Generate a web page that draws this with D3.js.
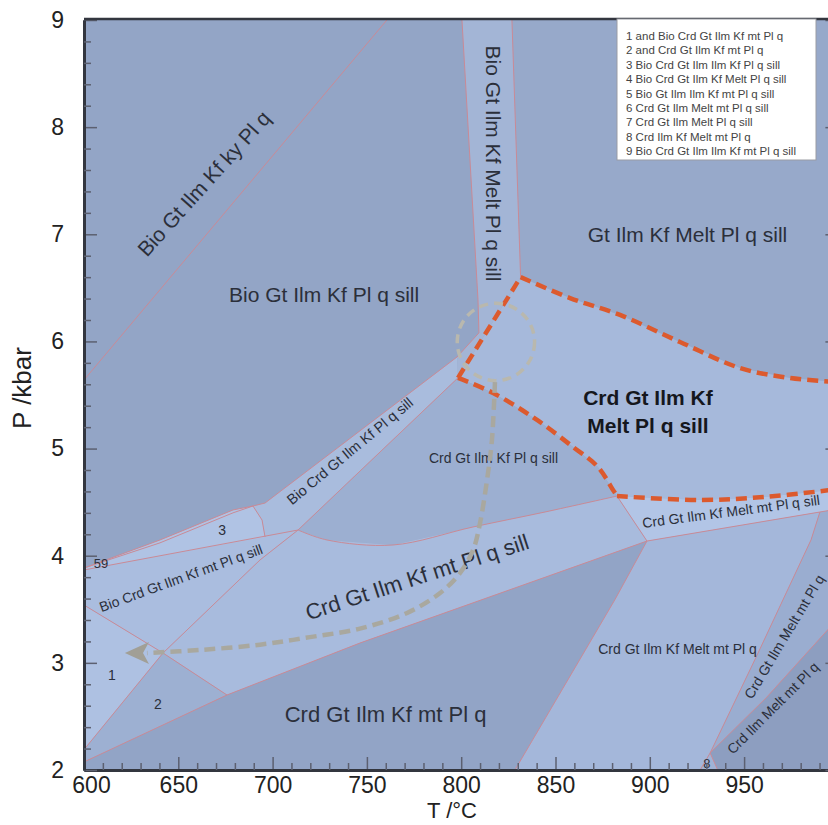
<!DOCTYPE html>
<html>
<head>
<meta charset="utf-8">
<script src="https://cdn.jsdelivr.net/npm/d3@7"></script>
<style>
  body { margin: 0; background: #fff; }
  svg { display: block; }
  text { font-family: "Liberation Sans", Arial, sans-serif; }
</style>
</head>
<body>
<div id="chart"></div>
<script>
//
// P-T pseudosection, all points are [T °C, P kbar]
//
const tTicks = [600, 650, 700, 750, 800, 850, 900, 950]
const pTicks = [2, 3, 4, 5, 6, 7, 8, 9]

const legendItems = [
  "1 and Bio Crd Gt Ilm Kf mt Pl q",
  "2 and Crd Gt Ilm Kf mt Pl q",
  "3 Bio Crd Gt Ilm Ilm Kf Pl q sill",
  "4 Bio Crd Gt Ilm Kf Melt Pl q sill",
  "5 Bio Gt Ilm Ilm Kf mt Pl q sill",
  "6 Crd Gt Ilm Melt mt Pl q sill",
  "7 Crd Gt Ilm Melt Pl q sill",
  "8 Crd Ilm Kf Melt mt Pl q",
  "9 Bio Crd Gt Ilm Ilm Kf mt Pl q sill"
]

// field boundaries
const kySill = [[600, 5.64], [760.6, 9]]
const meltBandLeft = [[800.4, 9], [808.9, 6.39], [809.4, 6.08], [797.8, 5.855]]
const meltBandRight = [[826.9, 9], [831.5, 6.6]]
const bandUpper = [[696, 4.492], [797.8, 5.855]]
const bandLower = [[713.5, 4.24], [798.3, 5.66]]
const field3Top = [[600, 3.885], [640.3, 4.147], [679, 4.427], [689.6, 4.464], [696, 4.492]]
const field3Sliver = [[600, 3.885], [640.3, 4.12], [679, 4.4], [689.6, 4.464]]
const field3Right = [[689.6, 4.464], [694.4, 4.333], [696, 4.175]]
const field3Bottom = [[600, 3.867], [713.5, 4.24]]
const mtOut = [[713.5, 4.24], [728.8, 4.147], [763.8, 4.1], [806.2, 4.268], [844.4, 4.408], [882.6, 4.557]]
const meltIn = [[882.6, 4.557], [898.5, 4.137]]
const meltBandBase = [[898.5, 4.137], [990.2, 4.408], [1000, 4.437]]
const sillOut = [[898.5, 4.137], [746.3, 3.185], [675.8, 2.7], [600, 2.075]]
const kfOut = [[898.5, 4.137], [881.5, 3.59], [828.5, 2]]
const line1 = [[990.2, 4.408], [985.5, 4.148], [957.4, 3.092], [932, 2.159], [926.7, 2]]
const line2 = [[1000, 3.418], [962.1, 2.681], [932, 2.159]]
const line2Ext = [[932, 2.159], [936, 2]]
const bioOutA = [[713.5, 4.24], [693.3, 3.96], [641.9, 3.092], [600, 2.19]]
const bioOutB = [[600, 3.54], [641.9, 3.092], [675.8, 2.7]]

// melt-in field (red dashed)
const redUpper = [[831.5, 6.6], [857.7, 6.405], [884.2, 6.247], [916, 5.995], [947.8, 5.752], [974.3, 5.659], [1000, 5.62]]
const redLower = [[798.3, 5.66], [816.9, 5.519], [840.2, 5.267], [859.3, 5.015], [872.5, 4.828], [880.5, 4.614], [882.6, 4.557],
                  [926.6, 4.52], [962, 4.55], [994.5, 4.61], [1000, 4.62]]
const redJoin = [[798.3, 5.66], [831.5, 6.6]]

// P-T path (grey dashed) and peak circle
const ptPath = [[817.9, 5.621], [816.3, 5.08], [814.2, 4.77], [810, 4.306], [806.3, 4.053], [799.4, 3.839], [788.8, 3.652],
                [771.3, 3.466], [746.3, 3.32], [719.8, 3.24], [693.3, 3.17], [661.5, 3.12], [633.4, 3.092]]
const ptArrowTip = [621.7, 3.092]
const peakCircle = [818.4, 5.995]
const peakRadiusT = 20.5

try {
  const width = 828, height = 825
  const x = d3.scaleLinear().domain([600, 1000]).range([84, 838.4])
  const y = d3.scaleLinear().domain([2, 9]).range([770, 20])
  const rev = a => a.slice().reverse()

  const svg = d3.select("#chart").append("svg")
    .attr("width", width).attr("height", height)

  svg.append("defs").append("clipPath").attr("id", "plot")
    .append("rect")
      .attr("x", x(600)).attr("y", y(9))
      .attr("width", x(1000) - x(600)).attr("height", y(2) - y(9))

  const g = svg.append("g").attr("clip-path", "url(#plot)")
  const lin = d3.line().x(d => x(d[0])).y(d => y(d[1]))
  const smooth = d3.line().x(d => x(d[0])).y(d => y(d[1])).curve(d3.curveCatmullRom.alpha(0.5))

  //
  // fields
  //
  const A = bandLower[1]
  const regions = [
    { fill: "#97a9ca", pts: [...meltBandRight, ...redUpper.slice(1), [1000, 9]] },
    { fill: "#a3b5d6", pts: [...meltBandLeft, A, meltBandRight[1], meltBandRight[0]] },
    { fill: "#a9bcdd", pts: [...field3Right, bandLower[0], A, meltBandLeft[3], bandUpper[0]] },
    { fill: "#a6b9db", pts: [...redUpper, [1000, 4.62], ...rev(redLower)] },
    { fill: "#9cafd1", pts: [...redLower.slice(0, 7), ...rev(mtOut).slice(1)] },
    { fill: "#b2c5e6", pts: [...redLower.slice(6), ...rev(meltBandBase)] },
    { fill: "#a8bbdd", pts: [...mtOut, ...sillOut.slice(0, 3), [641.9, 3.092], [693.3, 3.96]] },
    { fill: "#aabddf", pts: [field3Bottom[0], bioOutA[0], bioOutA[1], bioOutA[2], bioOutB[0]] },
    { fill: "#aec1e2", pts: [bioOutB[0], bioOutB[1], bioOutA[3]] },
    { fill: "#9db0d2", pts: [bioOutB[1], bioOutB[2], sillOut[3], bioOutA[3]] },
    { fill: "#92a4c6", pts: [...rev(sillOut), ...kfOut.slice(1), [600, 2]] },
    { fill: "#a4b7da", pts: [meltBandBase[0], meltBandBase[1], ...line1.slice(1), ...rev(kfOut).slice(0, 2)] },
    { fill: "#9aadd0", pts: [meltBandBase[1], meltBandBase[2], ...line2, ...rev(line1).slice(2)] },
    { fill: "#8d9ec0", pts: [...line2, line2Ext[1], [1000, 2]] },
    { fill: "#a0b3d6", pts: [line2Ext[0], line1[4], line2Ext[1]] },
    { fill: "#b0c3e4", pts: [...field3Top.slice(0, 4), ...field3Right.slice(1), field3Bottom[0]] }
  ]

  g.append("rect")
    .attr("x", x(600)).attr("y", y(9))
    .attr("width", x(1000) - x(600)).attr("height", y(2) - y(9))
    .attr("fill", "#93a5c6")

  g.selectAll("path.field")
    .data(regions)
    .enter()
    .append("path")
      .attr("class", "field")
      .attr("d", d => lin(d.pts) + "Z")
      .attr("fill", d => d.fill)

  //
  // boundary lines
  //
  const straight = [kySill, meltBandLeft, meltBandRight, bandUpper, bandLower, field3Top, field3Sliver, field3Right,
                    field3Bottom, meltIn, meltBandBase, sillOut, kfOut, line1, line2, line2Ext, bioOutA, bioOutB]
  g.selectAll("path.bound")
    .data(straight)
    .enter()
    .append("path")
      .attr("class", "bound")
      .attr("d", lin)
      .attr("fill", "none")
      .attr("stroke", "#c98a96")
      .attr("stroke-width", 1)
  g.append("path")
    .attr("d", smooth(mtOut))
    .attr("fill", "none")
    .attr("stroke", "#c98a96")
    .attr("stroke-width", 1)

  //
  // labels inside the fields
  //
  const fieldLabels = [
    { text: "Bio Gt Ilm Kf ky Pl q", t: 663.6, p: 7.474, a: -48, size: 21 },
    { text: "Bio Gt Ilm Kf Pl q sill", t: 727.3, p: 6.368, a: 0, size: 21, base: true },
    { text: "Gt Ilm Kf Melt Pl q sill", t: 920, p: 6.928, a: 0, size: 21, base: true },
    { text: "Bio Gt Ilm Kf Melt Pl q sill", t: 817.3, p: 7.661, a: 90, size: 21 },
    { text: "Crd Gt Ilm Kf Pl q sill", t: 817.1, p: 4.866, a: 0, size: 14, base: true },
    { text: "Bio Crd Gt Ilm Kf Pl q sill", t: 741, p: 4.977, a: -39.6, size: 14.5 },
    { text: "Crd Gt Ilm Kf mt Pl q sill", t: 776.6, p: 3.801, a: -18, size: 22 },
    { text: "Bio Crd Gt Ilm Kf mt Pl q sill", t: 651.4, p: 3.792, a: -20, size: 14 },
    { text: "3", t: 673.2, p: 4.24, a: 0, size: 14 },
    { text: "59", t: 609, p: 3.932, a: 0, size: 13 },
    { text: "1", t: 614.8, p: 2.887, a: 0, size: 14 },
    { text: "2", t: 639.2, p: 2.616, a: 0, size: 14 },
    { text: "Crd Gt Ilm Kf mt Pl q", t: 759.9, p: 2.448, a: 0, size: 22, base: true },
    { text: "Crd Gt Ilm Kf Melt mt Pl q", t: 914.7, p: 3.083, a: 0, size: 14, base: true },
    { text: "Crd Gt Ilm Kf Melt mt Pl q sill", t: 896.4, p: 4.259, a: -7.5, size: 14, base: true, start: true },
    { text: "Crd Gt Ilm Melt mt Pl q", t: 954.2, p: 2.654, a: -59, size: 14, base: true, start: true },
    { text: "Crd Ilm Melt mt Pl q", t: 944.1, p: 2.14, a: -45, size: 14, base: true, start: true },
    { text: "8", t: 930.3, p: 2.064, a: 0, size: 13 }
  ]
  g.selectAll("text.field")
    .data(fieldLabels)
    .enter()
    .append("text")
      .attr("class", "field")
      .attr("transform", d => "translate(" + x(d.t) + "," + y(d.p) + ")rotate(" + d.a + ")")
      .attr("text-anchor", d => d.start ? "start" : "middle")
      .attr("dy", d => d.base ? 0 : "0.35em")
      .style("font-size", d => d.size + "px")
      .style("fill", "#2b2f3a")
      .text(d => d.text)

  const bold = g.append("text")
    .attr("text-anchor", "middle")
    .style("font-size", "21px")
    .style("font-weight", "bold")
    .style("fill", "#15171d")
  bold.append("tspan").attr("x", x(899)).attr("y", y(5.407)).text("Crd Gt Ilm Kf")
  bold.append("tspan").attr("x", x(899)).attr("y", y(5.146)).text("Melt Pl q sill")

  //
  // red dashed melt field, grey P-T path
  //
  const redStyle = p => p.attr("fill", "none").attr("stroke", "#dc5a2e")
    .attr("stroke-width", 4.5).attr("stroke-dasharray", "11,6")
  g.append("path").attr("d", smooth(redUpper)).call(redStyle)
  g.append("path").attr("d", smooth(redLower.slice(0, 7))).call(redStyle)
  g.append("path").attr("d", smooth(redLower.slice(6))).call(redStyle)
  g.append("path").attr("d", lin(redJoin)).call(redStyle)

  const rPx = x(peakCircle[0] + peakRadiusT) - x(peakCircle[0])
  g.append("circle")
    .attr("cx", x(peakCircle[0])).attr("cy", y(peakCircle[1])).attr("r", rPx)
    .attr("fill", "none").attr("stroke", "#b9b8ae").attr("stroke-width", 3.5)
    .attr("stroke-dasharray", "9,6")

  g.append("path")
    .attr("d", smooth(ptPath))
    .attr("fill", "none").attr("stroke", "#a9a89f").attr("stroke-width", 4.5)
    .attr("stroke-dasharray", "11,6")

  const last = ptPath[ptPath.length - 1]
  const bx = x(last[0]), by = y(last[1])
  g.append("path")
    .attr("d", "M" + x(ptArrowTip[0]) + "," + y(ptArrowTip[1]) + "L" + (bx + 2) + "," + (by - 11) +
               "L" + (bx - 4) + "," + by + "L" + (bx + 2) + "," + (by + 11) + "Z")
    .attr("fill", "#a19f96")

  //
  // axes, ticks inward
  //
  const minorT = d3.range(600, 1001, 10).filter(v => v % 50 !== 0)
  const minorP = d3.range(20, 91, 2).map(v => v / 10).filter(v => v % 1 !== 0)

  const xAxis = svg.append("g").attr("transform", "translate(0," + y(2) + ")")
    .call(d3.axisBottom(x).tickValues(tTicks).tickFormat(d3.format("d"))
      .tickSize(-13).tickSizeOuter(0).tickPadding(7))
  svg.append("g").attr("transform", "translate(0," + y(2) + ")")
    .call(d3.axisBottom(x).tickValues(minorT).tickSize(-7).tickSizeOuter(0).tickFormat(""))
  svg.append("g").attr("transform", "translate(" + x(600) + ",0)")
    .call(d3.axisLeft(y).tickValues(pTicks).tickFormat(d3.format("d"))
      .tickSize(-13).tickSizeOuter(0).tickPadding(20))
  svg.append("g").attr("transform", "translate(" + x(600) + ",0)")
    .call(d3.axisLeft(y).tickValues(minorP).tickSize(-7).tickSizeOuter(0).tickFormat(""))
  svg.append("g").attr("transform", "translate(" + x(1000) + ",0)")
    .call(d3.axisRight(y).tickValues(pTicks).tickSize(-13).tickSizeOuter(0).tickFormat(""))
  svg.append("g").attr("transform", "translate(" + x(1000) + ",0)")
    .call(d3.axisRight(y).tickValues(minorP).tickSize(-7).tickSizeOuter(0).tickFormat(""))

  svg.selectAll(".tick line").attr("stroke", "#5c6070").attr("stroke-width", 1.5)
  svg.selectAll(".domain").attr("stroke", "#33363f").attr("stroke-width", 3)
  svg.selectAll(".tick text").style("font-size", "23px").style("fill", "#222")
    .style("font-family", "Liberation Sans, Arial, sans-serif")
  xAxis.selectAll(".tick text").filter(d => d === 600).attr("dx", 7)

  svg.append("line")
    .attr("x1", x(600)).attr("x2", width).attr("y1", y(9) - 1).attr("y2", y(9) - 1)
    .attr("stroke", "#33363f").attr("stroke-width", 2.5)

  svg.append("text")
    .attr("transform", "translate(" + 31 + "," + 388 + ")rotate(-90)")
    .attr("text-anchor", "middle")
    .style("font-size", "26px").style("fill", "#222")
    .text("P /kbar")
  svg.append("text")
    .attr("x", 452).attr("y", 818)
    .attr("text-anchor", "middle")
    .style("font-size", "22px").style("fill", "#222")
    .text("T /°C")

  //
  // legend box
  //
  const lg = svg.append("g").attr("transform", "translate(617,19)")
  lg.append("rect")
    .attr("width", 199).attr("height", 141)
    .attr("fill", "#fff").attr("stroke", "#9a9ca3").attr("stroke-width", 1)
  lg.selectAll("text")
    .data(legendItems)
    .enter()
    .append("text")
      .attr("x", 9)
      .attr("y", (d, i) => 21 + i * 14.4)
      .style("font-size", "11.5px")
      .style("fill", "#444")
      .text(d => d)
} catch (e) {
  console.log("Error: " + e.name + ": " + e.message)
}
</script>
</body>
</html>
